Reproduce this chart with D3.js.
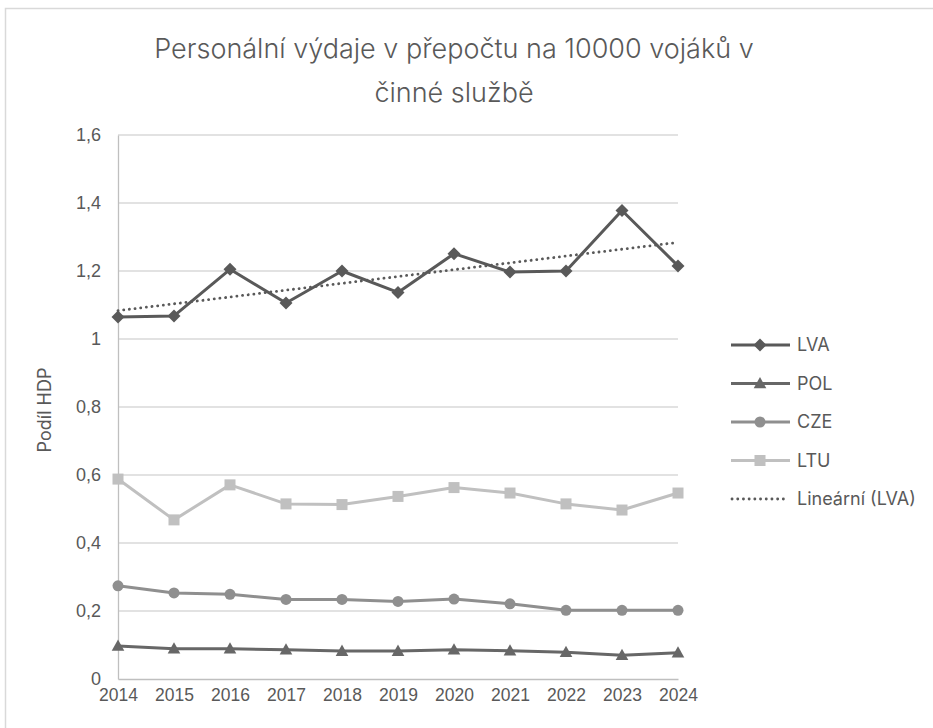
<!DOCTYPE html>
<html><head><meta charset="utf-8">
<script src="https://cdn.jsdelivr.net/npm/d3@7"></script>
<style>
html,body{margin:0;padding:0;background:#fff;}
svg{display:block;font-family:"Inter","Liberation Sans",sans-serif;}
</style></head>
<body>
<svg id="c" width="933" height="728"></svg>
<script>
const years = ["2014","2015","2016","2017","2018","2019","2020","2021","2022","2023","2024"];
const LVA = [1.065,1.068,1.205,1.106,1.200,1.137,1.251,1.197,1.200,1.378,1.215];
const POL = [0.097,0.089,0.089,0.086,0.082,0.082,0.086,0.083,0.079,0.070,0.077];
const CZE = [0.274,0.253,0.249,0.234,0.234,0.228,0.235,0.221,0.202,0.202,0.202];
const LTU = [0.588,0.468,0.571,0.515,0.513,0.537,0.563,0.547,0.515,0.497,0.547];
const yTicks = [0,0.2,0.4,0.6,0.8,1,1.2,1.4,1.6];
const titleLines = ["Personální výdaje v přepočtu na 10000 vojáků v","činné službě"];
const yTitle = "Podíl HDP";
const trendName = "Lineární (LVA)";

const series = [
  {name:"LVA", values:LVA, color:"#595959", marker:"diamond"},
  {name:"POL", values:POL, color:"#676767", marker:"triangle"},
  {name:"CZE", values:CZE, color:"#8f8f8f", marker:"circle"},
  {name:"LTU", values:LTU, color:"#c0c0c0", marker:"square"}
];

const svg = d3.select("#c");
svg.append("rect").attr("x",5.5).attr("y",8.5).attr("width",940).attr("height",730)
  .attr("fill","#fff").attr("stroke","#d9d9d9").attr("stroke-width",1.5);

const x = d3.scalePoint().domain(years).range([118,678]);
const y = d3.scaleLinear().domain([0,1.6]).range([679,135]);

svg.append("g").selectAll("line").data(yTicks.filter(d=>d>0)).join("line")
  .attr("x1",118).attr("x2",678).attr("y1",d=>y(d)).attr("y2",d=>y(d))
  .attr("stroke","#d9d9d9").attr("stroke-width",1.3);

const fmt = d => d3.format("")(d).replace(".",",");
const yAxis = svg.append("g").attr("transform","translate(118,0)")
  .call(d3.axisLeft(y).tickValues(yTicks).tickFormat(fmt).tickSize(0).tickPadding(17));
yAxis.select(".domain").attr("stroke","#bfbfbf").attr("stroke-width",1.3);
yAxis.selectAll("text").attr("fill","#595959").style("font-size","18px");

const xAxis = svg.append("g").attr("transform","translate(0,679)")
  .call(d3.axisBottom(x).tickSize(0).tickPadding(10));
xAxis.select(".domain").attr("stroke","#bfbfbf").attr("stroke-width",1.3);
xAxis.selectAll("text").attr("fill","#595959").style("font-size","17.5px");

svg.append("g").selectAll("text").data(titleLines).join("text")
  .attr("x",454).attr("y",(d,i)=>58+i*44).attr("text-anchor","middle")
  .attr("fill","#595959").style("font-size","27px").style("font-weight","300").text(d=>d);

svg.append("text").attr("transform","translate(51,410) rotate(-90)")
  .attr("text-anchor","middle").attr("fill","#595959").style("font-size","18px").text(yTitle);

function drawMarker(g, type){
  if(type==="diamond"){
    g.append("path").attr("d","M0,-6.5L6.5,0L0,6.5L-6.5,0Z");
  } else if(type==="triangle"){
    g.append("path").attr("d","M0,-6.5L6.3,4.8L-6.3,4.8Z");
  } else if(type==="circle"){
    g.append("circle").attr("r",5.5);
  } else {
    g.append("rect").attr("x",-5.5).attr("y",-5.5).attr("width",11).attr("height",11);
  }
}

const line = d3.line().x((d,i)=>x(years[i])).y(d=>y(d));

const n = LVA.length, xs = d3.range(n);
const mx = d3.mean(xs), my = d3.mean(LVA);
const slope = d3.sum(xs,(v,i)=>(v-mx)*(LVA[i]-my))/d3.sum(xs,v=>(v-mx)*(v-mx));
const inter = my - slope*mx;

[...series].reverse().forEach(s=>{
  svg.append("path").datum(s.values).attr("d",line)
    .attr("fill","none").attr("stroke",s.color).attr("stroke-width",3).attr("stroke-linejoin","round");
  s.values.forEach((v,i)=>{
    const g = svg.append("g").attr("transform",`translate(${x(years[i])},${y(v)})`)
      .attr("fill",s.color);
    drawMarker(g,s.marker);
  });
});

svg.append("line")
  .attr("x1",x(years[0])).attr("y1",y(inter))
  .attr("x2",x(years[n-1])).attr("y2",y(inter+slope*(n-1)))
  .attr("stroke","#595959").attr("stroke-width",2.8).attr("stroke-dasharray","0.1 5.6").attr("stroke-linecap","round");

const legRows = series.map(s=>({name:s.name,color:s.color,marker:s.marker})).concat([{name:trendName,color:"#595959",marker:"trend"}]);
const lg = svg.append("g");
legRows.forEach((r,i)=>{
  const yy = 345 + i*38.5;
  if(r.marker==="trend"){
    lg.append("line").attr("x1",732).attr("x2",788).attr("y1",yy).attr("y2",yy)
      .attr("stroke",r.color).attr("stroke-width",2.8).attr("stroke-dasharray","0.1 5.6").attr("stroke-linecap","round");
  } else {
    lg.append("line").attr("x1",731).attr("x2",790).attr("y1",yy).attr("y2",yy)
      .attr("stroke",r.color).attr("stroke-width",3);
    const g = lg.append("g").attr("transform",`translate(760,${yy})`).attr("fill",r.color);
    drawMarker(g,r.marker);
  }
  lg.append("text").attr("x",797).attr("y",yy).attr("dy","0.35em")
    .attr("fill","#595959").style("font-size","18px").text(r.name);
});
</script>
</body></html>
